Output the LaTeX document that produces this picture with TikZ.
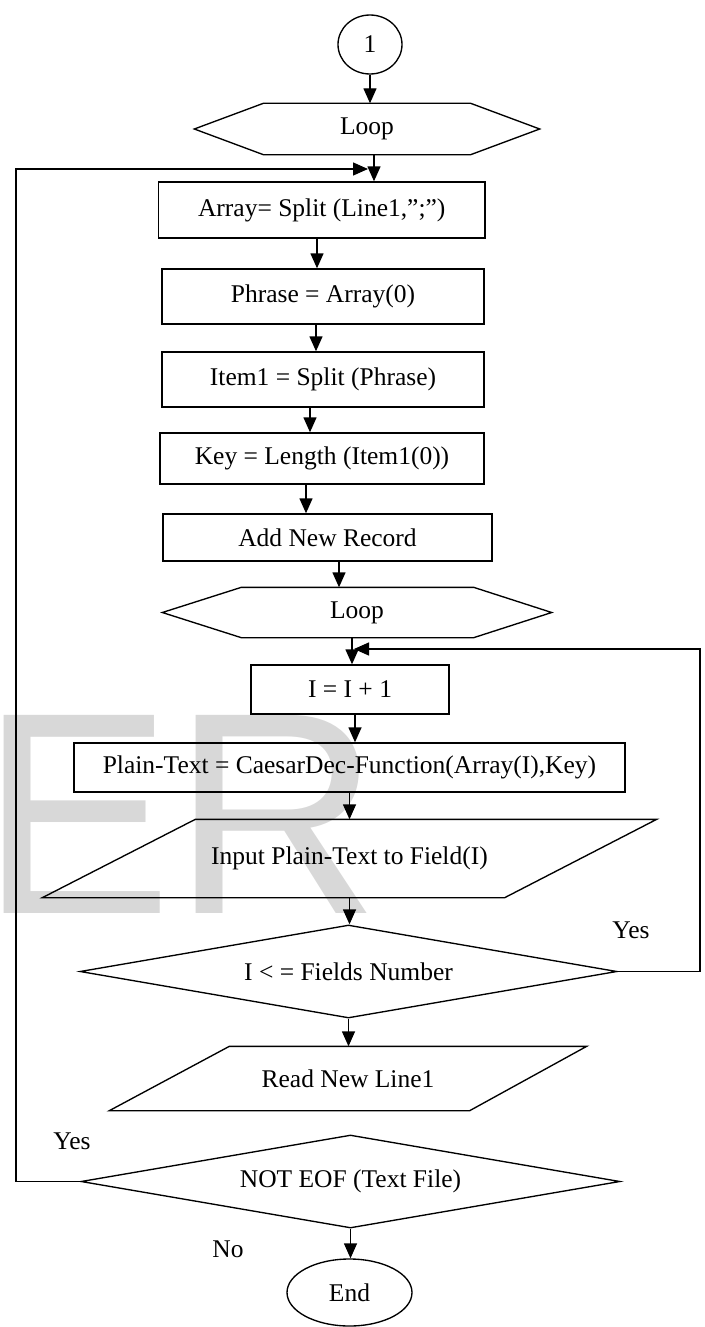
\documentclass[tikz,border=0pt]{standalone}
\usepackage{fontspec}
\setmainfont{Liberation Serif}
\newfontfamily\wmfont{Liberation Sans}
\usetikzlibrary{arrows.meta,shapes.geometric}
\definecolor{wmgray}{RGB}{216,216,216}
\tikzset{
  txt/.style={inner sep=0pt, font=\fontsize{25.5}{30}\selectfont},
  proc/.style={txt, draw, rectangle},
  term/.style={txt, draw, ellipse},
  decide/.style={txt, draw, diamond, aspect=5.8},
  lbl/.style={txt, anchor=base},
  arr/.style={-{Triangle[length=15pt,width=13pt]}},
}
\begin{document}
\begin{tikzpicture}[x=1pt, y=-1pt, line width=1.35pt]
\useasboundingbox (0,0) rectangle (704,1327);

% watermark letters behind the chart
\node[anchor=base west, inner sep=0pt, text=wmgray,
      font=\wmfont\fontsize{288}{288}\selectfont] (wm) at (-20,913) {ER};

% start connector
\node[term, minimum width=64pt, minimum height=59pt] (c1) at (370,44.5) {1};

% outer loop header
\node[txt, minimum width=344pt, minimum height=50pt] (h1) at (367,129) {Loop};
\draw (h1.west) -- ([xshift=69pt]h1.north west) -- ([xshift=-69pt]h1.north east)
  -- (h1.east) -- ([xshift=-69pt]h1.south east) -- ([xshift=69pt]h1.south west) -- cycle;

% record preparation
\node[proc, minimum width=326.5pt, minimum height=56pt] (b1) at (321.75,210) {Array= Split (Line1,”;”)};
\node[proc, minimum width=322pt, minimum height=55pt] (b2) at (323,296.5) {Phrase = Array(0)};
\node[proc, minimum width=322pt, minimum height=55pt] (b3) at (323,379.5) {Item1 = Split (Phrase)};
\node[proc, minimum width=324pt, minimum height=51pt] (b4) at (322,458.5) {Key = Length (Item1(0))};
\node[proc, minimum width=329pt, minimum height=47pt] (b5) at (327.5,537.5) {Add New Record};

% inner loop header
\node[txt, minimum width=388pt, minimum height=49pt] (h2) at (357,612.5) {Loop};
\draw (h2.west) -- ([xshift=79pt]h2.north west) -- ([xshift=-78pt]h2.north east)
  -- (h2.east) -- ([xshift=-78pt]h2.south east) -- ([xshift=79pt]h2.south west) -- cycle;

% field decoding
\node[proc, minimum width=198pt, minimum height=49pt] (b6) at (350,689.5) {I = I + 1};
\node[proc, minimum width=551pt, minimum height=49pt] (b7) at (349.5,767.5) {Plain-Text = CaesarDec-Function(Array(I),Key)};

\node[txt, minimum width=613pt, minimum height=77pt] (p1) at (349.5,858.5) {Input Plain-Text to Field(I)};
\draw ([xshift=153pt]p1.north west) -- (p1.north east)
  -- ([xshift=-152pt]p1.south east) -- (p1.south west) -- cycle;

\node[decide, minimum width=537pt, minimum height=93pt] (d1) at (348.5,971.5) {I < = Fields Number};

\node[txt, minimum width=476pt, minimum height=63pt] (p2) at (348,1078.5) {Read New Line1};
\draw ([xshift=120pt]p2.north west) -- (p2.north east)
  -- ([xshift=-117pt]p2.south east) -- (p2.south west) -- cycle;

\node[decide, minimum width=539pt, minimum height=93pt] (d2) at (350.5,1181.5) {NOT EOF (Text File)};

\node[term, minimum width=125pt, minimum height=67pt] (e1) at (349.5,1292.5) {End};

% branch labels
\node[lbl] (yes1) at (631,938) {Yes};
\node[lbl] (yes2) at (72,1149) {Yes};
\node[lbl] (no1) at (228,1257) {No};

% main flow
\draw[arr] (c1.south) -- (c1.south |- h1.north);
\draw[arr] ([xshift=7pt]h1.south) -- ([xshift=7pt]h1.south |- b1.north);
\draw[arr] ([xshift=-4.75pt]b1.south) -- ([xshift=-4.75pt]b1.south |- b2.north);
\draw[arr] ([xshift=-7pt]b2.south) -- ([xshift=-7pt]b2.south |- b3.north);
\draw[arr] ([xshift=-13pt]b3.south) -- ([xshift=-13pt]b3.south |- b4.north);
\draw[arr] ([xshift=-16pt]b4.south) -- ([xshift=-16pt]b4.south |- b5.north);
\draw[arr] ([xshift=11.5pt]b5.south) -- ([xshift=11.5pt]b5.south |- h2.north);
\draw[arr] ([xshift=-5pt]h2.south) -- ([xshift=-5pt]h2.south |- b6.north);
\draw[arr] ([xshift=5pt]b6.south) -- ([xshift=5pt]b6.south |- b7.north);
\draw[arr] (b7.south) -- (b7.south |- p1.north);
\draw[arr] (p1.south) -- (p1.south |- d1.north);
\draw[arr] (d1.south) -- (d1.south |- p2.north);
\draw[arr] (d2.south) -- (d2.south |- e1.north);

% loop-back connectors
\coordinate (rr) at (700,649);
\coordinate (lr) at (16,169);
\draw[arr] (d1.east) -| (rr) -- ([xshift=4pt]b6.north |- rr);
\draw[arr] (d2.west) -| (lr) -- ([xshift=1pt]h1.south |- lr);
\end{tikzpicture}
\end{document}
